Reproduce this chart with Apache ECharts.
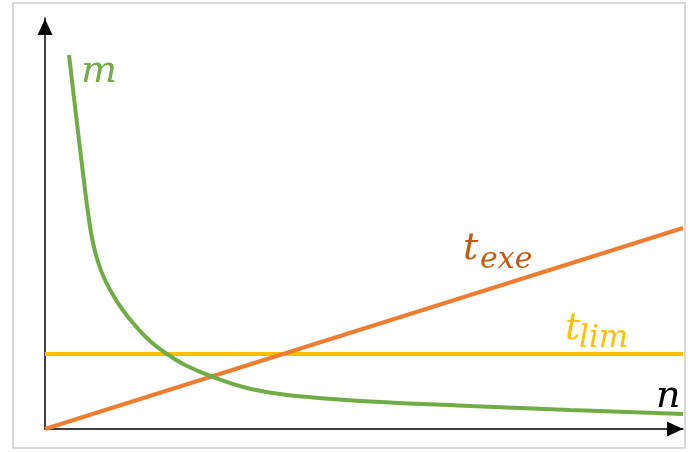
<!DOCTYPE html>
<html>
<head>
<meta charset="utf-8">
<script src="https://cdn.jsdelivr.net/npm/echarts@6/dist/echarts.min.js"></script>
<style>html,body{margin:0;padding:0;background:#fff}#c{width:699px;height:452px}</style>
</head>
<body>
<div id="c"></div>
<script>
// Data (x in units of n, y in arbitrary units)
const mCurve = [
  [2.4, 37.4], [3.1, 31.4], [3.7, 26.4], [4.2, 22.4], [4.7, 19.1], [5.3, 16.7],
  [6.0, 14.9], [6.8, 13.4], [7.7, 12.0], [8.8, 10.6], [10.5, 8.8], [12.2, 7.5],
  [14.0, 6.4], [16.8, 5.2], [20.2, 4.1], [23.5, 3.5], [26.8, 3.15], [32.5, 2.75],
  [42.5, 2.3], [52.5, 1.9], [63.8, 1.5]
];
const tExe = [[0, 0], [63.8, 20.1]];
const tLim = [[0, 7.5], [63.8, 7.5]];
const xMax = 63.8;
const yMax = 41.1;

const chart = echarts.init(document.getElementById('c'), null, {renderer: 'canvas'});
const serif = '"DejaVu Serif", serif';
chart.setOption({
  animation: false,
  backgroundColor: '#fff',
  grid: {left: 45, right: 16, top: 18, bottom: 23},
  xAxis: {
    type: 'value', min: 0, max: xMax,
    axisLine: {show: true, onZero: false, lineStyle: {color: '#000', width: 1.5},
      symbol: ['none', 'triangle'], symbolSize: [15, 16], symbolOffset: [0, -8]},
    axisTick: {show: false}, axisLabel: {show: false}, splitLine: {show: false}
  },
  yAxis: {
    type: 'value', min: 0, max: yMax,
    axisLine: {show: true, onZero: false, lineStyle: {color: '#000', width: 1.5},
      symbol: ['none', 'triangle'], symbolSize: [15, 16], symbolOffset: [0, -9]},
    axisTick: {show: false}, axisLabel: {show: false}, splitLine: {show: false}
  },
  series: [
    {type: 'line', data: tLim, showSymbol: false, lineStyle: {color: '#FFC000', width: 4}, z: 2},
    {type: 'line', data: tExe, showSymbol: false, lineStyle: {color: '#ED7D31', width: 4}, z: 3},
    {type: 'line', data: mCurve, showSymbol: false, smooth: 0.4,
      lineStyle: {color: '#70AD47', width: 4}, z: 4}
  ],
  graphic: [
    {type: 'rect', shape: {x: 13, y: 3, width: 672, height: 445}, silent: true, z: -1,
      style: {fill: 'none', stroke: '#D9D9D9', lineWidth: 2}},
    {type: 'text', x: 81, y: 72, style: {text: 'm', fill: '#70AD47', font: 'italic 38px ' + serif, verticalAlign: 'middle'}},
    {type: 'text', x: 656, y: 397, style: {text: 'n', fill: '#000', font: 'italic 38px ' + serif, verticalAlign: 'middle'}},
    {type: 'text', x: 463, y: 249, style: {text: 't', fill: '#C55A11', font: 'italic 38px ' + serif, verticalAlign: 'middle'}},
    {type: 'text', x: 480, y: 260, style: {text: 'exe', fill: '#C55A11', font: 'italic 30px ' + serif, verticalAlign: 'middle'}},
    {type: 'text', x: 565, y: 329, style: {text: 't', fill: '#FFC000', font: 'italic 38px ' + serif, verticalAlign: 'middle'}},
    {type: 'text', x: 579, y: 339, style: {text: 'lim', fill: '#FFC000', font: 'italic 31px ' + serif, verticalAlign: 'middle'}}
  ]
});
</script>
</body>
</html>
